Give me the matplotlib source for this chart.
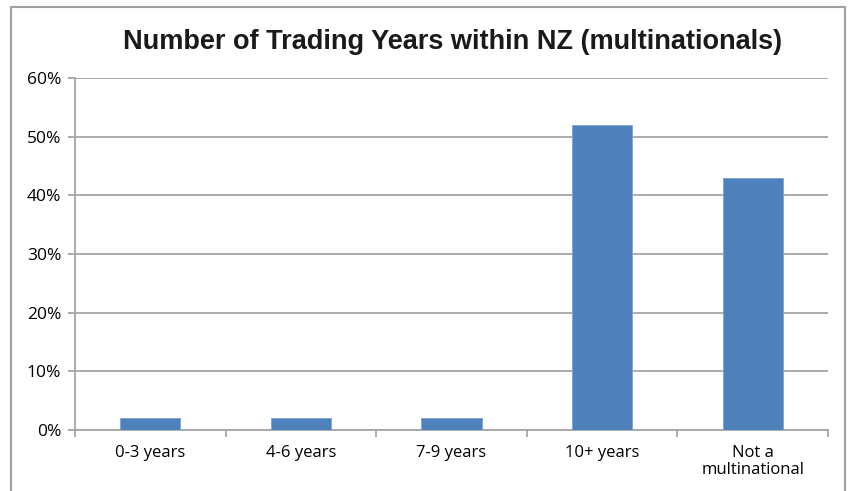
import matplotlib.pyplot as plt
from matplotlib.patches import Rectangle
from matplotlib.ticker import PercentFormatter
import numpy as np

categories = ['0-3 years', '4-6 years', '7-9 years', '10+ years', 'Not a\nmultinational']
values = [2, 2, 2, 52, 43]
y_ticks = [0, 10, 20, 30, 40, 50, 60]

BAR = '#4F81BD'
GRID = '#A6A6A6'

fig = plt.figure(figsize=(8.49, 4.91), dpi=100)
ax = fig.add_axes([0.0883, 0.1242, 0.8870, 0.7169])

# outer chart frame (bottom edge runs off the image)
fig.patches.append(Rectangle((11 / 849, -0.05), (845 - 11) / 849, 1 - 7 / 491 + 0.05,
                             transform=fig.transFigure, fill=False,
                             edgecolor='#A0A0A0', linewidth=1.5))

x = np.arange(len(categories))
ax.bar(x, values, width=0.4, color=BAR, edgecolor='#7FA3D1', linewidth=0.6, zorder=3)

ax.set_xlim(-0.5, len(categories) - 0.5)
ax.set_ylim(0, 60)
ax.set_yticks(y_ticks)
ax.yaxis.set_major_formatter(PercentFormatter(decimals=0))
ax.grid(axis='y', color=GRID, linewidth=1.3, zorder=0)

ax.set_xticks(x)
ax.set_xticklabels(categories, fontsize=12, family='Open Sans', linespacing=1.05)
ax.set_xticks(np.arange(-0.5, len(categories)), minor=True)
ax.tick_params(axis='x', which='major', length=0, pad=11)
ax.tick_params(axis='x', which='minor', length=5, color=GRID, width=1.3)
ax.tick_params(axis='y', length=5, color=GRID, width=1.3, pad=5, labelsize=12.5)
for lbl in ax.get_yticklabels():
    lbl.set_family('Open Sans')

for side in ['top', 'right']:
    ax.spines[side].set_visible(False)
for side in ['left', 'bottom']:
    ax.spines[side].set_color(GRID)
    ax.spines[side].set_linewidth(1.3)

fig.text(0.5334, 1 - 42 / 491, 'Number of Trading Years within NZ (multinationals)',
         ha='center', va='center', fontsize=19.5, fontweight='bold',
         family='Liberation Sans', color='#1A1A1A')

fig.savefig('out.png', dpi=100)
